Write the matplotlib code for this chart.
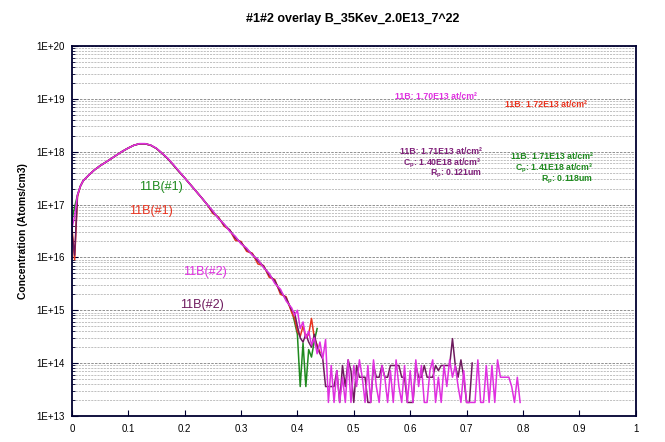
import numpy as np
import matplotlib
matplotlib.use("Agg")
import matplotlib.pyplot as plt
from matplotlib.ticker import LogLocator, FixedLocator, NullFormatter

plt.rcParams['font.family'] = ['Liberation Sans', 'DejaVu Sans']

# depth grid (um) for the profile head, shared by all four runs
depth_head = [0.0, 0.005, 0.01, 0.015, 0.02, 0.03, 0.04, 0.05, 0.06, 0.07,
              0.08, 0.09, 0.10, 0.11, 0.12, 0.13, 0.14, 0.15, 0.16, 0.17,
              0.18, 0.19, 0.20, 0.21, 0.22, 0.23, 0.24, 0.25, 0.26, 0.27,
              0.28, 0.29, 0.30, 0.31, 0.32, 0.33, 0.34, 0.35, 0.36, 0.37,
              0.38, 0.39]

# concentrations (atoms/cm3)
green_head = [5.0e16, 9.0e16, 1.5e17, 2.2e17, 2.8e17, 3.6e17, 4.5e17, 5.4e17, 6.3e17, 7.4e17,
              8.7e17, 1.02e18, 1.17e18, 1.32e18, 1.41e18, 1.41e18, 1.32e18, 1.15e18, 9.3e17, 7.4e17,
              5.6e17, 4.2e17, 3.2e17, 2.4e17, 1.8e17, 1.35e17, 1.0e17, 7.4e16, 5.5e16, 4.2e16,
              3.2e16, 2.4e16, 1.86e16, 1.45e16, 1.12e16, 8.9e15, 6.6e15, 4.8e15, 3.4e15, 2.3e15,
              1.6e15, 1.0e15]
red_head = [4.0e16, 9.0e15, 1.4e17, 2.2e17, 2.8e17, 3.6e17, 4.5e17, 5.4e17, 6.3e17, 7.4e17,
            8.7e17, 1.02e18, 1.17e18, 1.32e18, 1.41e18, 1.41e18, 1.32e18, 1.15e18, 9.3e17, 7.4e17,
            5.6e17, 4.2e17, 3.2e17, 2.4e17, 1.8e17, 1.35e17, 1.0e17, 6.8e16, 5.8e16, 3.9e16,
            3.3e16, 2.1e16, 2.0e16, 1.3e16, 1.2e16, 7.5e15, 7.0e15, 4.2e15, 3.8e15, 2.0e15,
            1.8e15, 9.0e14]
magenta_head = [3.5e16, 6.0e16, 1.5e17, 2.2e17, 2.8e17, 3.6e17, 4.5e17, 5.4e17, 6.3e17, 7.4e17,
                8.7e17, 1.02e18, 1.17e18, 1.32e18, 1.42e18, 1.42e18, 1.33e18, 1.16e18, 9.4e17, 7.5e17,
                5.7e17, 4.3e17, 3.2e17, 2.4e17, 1.8e17, 1.35e17, 1.0e17, 7.6e16, 5.4e16, 4.3e16,
                3.1e16, 2.5e16, 1.8e16, 1.5e16, 1.1e16, 9.2e15, 6.4e15, 5.0e15, 3.2e15, 2.5e15,
                1.5e15, 1.1e15]
purple_head = [3.0e16, 1.1e16, 1.5e17, 2.2e17, 2.8e17, 3.6e17, 4.5e17, 5.4e17, 6.3e17, 7.4e17,
               8.7e17, 1.02e18, 1.17e18, 1.32e18, 1.41e18, 1.41e18, 1.32e18, 1.15e18, 9.3e17, 7.4e17,
               5.6e17, 4.2e17, 3.2e17, 2.4e17, 1.8e17, 1.35e17, 1.0e17, 7.2e16, 5.6e16, 4.1e16,
               3.3e16, 2.3e16, 1.9e16, 1.4e16, 1.15e16, 8.5e15, 6.8e15, 4.6e15, 3.6e15, 2.2e15,
               1.7e15, 1.0e15]

# noisy tails, sampled every 0.005 um starting at 0.395 um
green_tail = [6.0e14, 3.5e14, 3.6e13, 2.4e14, 3.6e13, 1.8e14, 1.3e14, 2.6e14, 4.5e14]
red_tail = [7.0e14, 4.0e14, 3.2e14, 5.0e14, 3.0e14, 3.5e14, 7.0e14, 3.0e14, 2.2e14, 1.6e14]
magenta_tail = [8.0e14, 1.0e15, 4.5e14, 6.0e14, 3.0e14, 4.0e14, 2.2e14, 3.0e14, 1.5e14, 2.5e14,
                1.2e14, 2.8e14, 1.8e13, 9.0e13, 1.8e13, 7.2e13, 1.8e13, 5.4e13, 1.8e13, 1.15e14,
                1.8e13, 9.0e13, 3.6e13, 1.15e14, 5.4e13, 1.8e13, 9.0e13, 1.8e13, 1.15e14, 3.6e13,
                1.8e13, 9.0e13, 5.4e13, 1.8e13, 7.2e13, 1.8e13, 1.15e14, 3.6e13, 1.8e13, 9.0e13,
                1.8e13, 7.2e13, 1.8e13, 1.15e14, 3.6e13, 9.0e13, 1.8e13, 1.8e13, 7.2e13, 1.15e14,
                1.8e13, 5.4e13, 1.8e13, 9.0e13, 3.6e13, 1.15e14, 5.4e13, 9.0e13, 3.6e13, 1.8e13,
                7.2e13, 1.8e13, 1.8e13, 1.8e13, 1.8e13, 1.15e14, 1.8e13, 1.8e13, 9.0e13, 1.8e13,
                9.0e13, 1.8e13, 1.15e14, 5.4e13, 5.4e13, 5.4e13, 5.4e13, 3.6e13, 1.8e13, 5.4e13,
                1.8e13]
purple_tail = [9.0e14, 5.0e14, 3.0e14, 2.5e14, 3.5e14, 2.5e14, 2.0e14, 3.5e14, 2.0e14, 1.5e14,
               1.2e14, 3.6e13, 3.6e13, 3.6e13, 3.6e13, 7.2e13, 1.8e13, 9.0e13, 3.6e13, 1.15e14,
               7.2e13, 1.8e13, 9.0e13, 5.4e13, 5.4e13, 5.4e13, 1.8e13, 1.8e13, 9.0e13, 5.4e13,
               5.4e13, 9.0e13, 5.4e13, 5.4e13, 9.0e13, 9.0e13, 9.0e13, 9.0e13, 5.4e13, 5.4e13,
               1.8e13, 1.8e13, 1.8e13, 9.0e13, 5.4e13, 5.4e13, 9.0e13, 5.4e13, 5.4e13, 5.4e13,
               9.0e13, 7.2e13, 9.0e13, 9.0e13, 9.0e13, 9.0e13, 2.9e14, 9.0e13, 5.4e13, 1.15e14,
               5.4e13, 1.8e13, 1.8e13, 1.0e14]

tail_start = 0.395
tail_step = 0.005

series = [
    ("green", green_head, green_tail, "#1f8a1f"),
    ("red", red_head, red_tail, "#e8321e"),
    ("purple", purple_head, purple_tail, "#6e1a5e"),
    ("magenta", magenta_head, magenta_tail, "#e030e0"),
]

fig = plt.figure(figsize=(6.65, 4.42), dpi=100)
ax = fig.add_axes([0.108, 0.059, 0.848, 0.837])

for name, head, tail, col in series:
    tail_depth = [round(tail_start + i * tail_step, 3) for i in range(len(tail))]
    x = list(depth_head) + tail_depth
    y = list(head) + list(tail)
    ax.plot(x, y, color=col, lw=1.1)

ax.set_yscale("log")
ax.set_xlim(0, 1)
ax.set_ylim(1e13, 1e20)

ax.xaxis.set_major_locator(FixedLocator([0, 0.1, 0.2, 0.3, 0.4, 0.5, 0.6, 0.7, 0.8, 0.9, 1.0]))
ax.set_xticklabels(["0", "0.1", "0.2", "0.3", "0.4", "0.5", "0.6", "0.7", "0.8", "0.9", "1"])
ax.yaxis.set_minor_locator(LogLocator(base=10, subs=np.arange(2, 10), numticks=100))
ax.yaxis.set_minor_formatter(NullFormatter())
ax.set_yticks([10.0 ** k for k in range(13, 21)])
ax.set_yticklabels(["1E+%d" % k for k in range(13, 21)])

ax.tick_params(axis="both", which="major", direction="in", labelsize=7, length=4,
               color="#000030", pad=5)
ax.tick_params(axis="y", which="minor", direction="in", length=2, color="#000030")
ax.tick_params(axis="x", which="major", pad=6)

ax.grid(True, which="major", axis="y", color="#808080", ls=(0, (3, 1.5)), lw=0.6)
ax.grid(True, which="minor", axis="y", color="#a8a8a8", ls=(0, (3, 1.5)), lw=0.5)

for sp in ax.spines.values():
    sp.set_color("#000030")
    sp.set_linewidth(1.3)

ax.set_ylabel("Concentration (Atoms/cm3)", fontsize=7.5, fontweight="bold", labelpad=6)
fig.suptitle("#1#2 overlay B_35Kev_2.0E13_7^22", fontsize=9, fontweight="bold",
             x=0.53, y=0.97)

# dose / Cp / Rp annotations
ann_size = 6.3
ax.text(0.645, 10 ** 19.04, "11B: 1.70E13 at/cm\u00b2", color="#e030e0", fontsize=ann_size,
        fontweight="bold", ha="center", va="center")
ax.text(0.84, 10 ** 18.9, "11B: 1.72E13 at/cm\u00b2", color="#e8321e", fontsize=ann_size,
        fontweight="bold", ha="center", va="center")

purple_lines = ["11B: 1.71E13 at/cm\u00b2", "C$_\\mathregular{p}$: 1.40E18 at/cm\u00b3",
                "R$_\\mathregular{p}$: 0.121um"]
green_lines = ["11B: 1.71E13 at/cm\u00b2", "C$_\\mathregular{p}$: 1.41E18 at/cm\u00b3",
               "R$_\\mathregular{p}$: 0.118um"]
for i, s in enumerate(purple_lines):
    ax.text(0.727, 10 ** (18.0 - i * 0.215), s, color="#80207a", fontsize=ann_size,
            fontweight="bold", ha="right", va="center")
for i, s in enumerate(green_lines):
    ax.text(0.924, 10 ** (17.9 - i * 0.215), s, color="#1f8a1f", fontsize=ann_size,
            fontweight="bold", ha="right", va="center")

# series labels
ax.text(0.158, 10 ** 17.33, "11B(#1)", color="#1f8a1f", fontsize=9, ha="center", va="center")
ax.text(0.14, 10 ** 16.88, "11B(#1)", color="#e8321e", fontsize=9, ha="center", va="center")
ax.text(0.236, 10 ** 15.72, "11B(#2)", color="#e030e0", fontsize=9, ha="center", va="center")
ax.text(0.231, 10 ** 15.1, "11B(#2)", color="#6e1a5e", fontsize=9, ha="center", va="center")

fig.savefig("out.png", dpi=100)
